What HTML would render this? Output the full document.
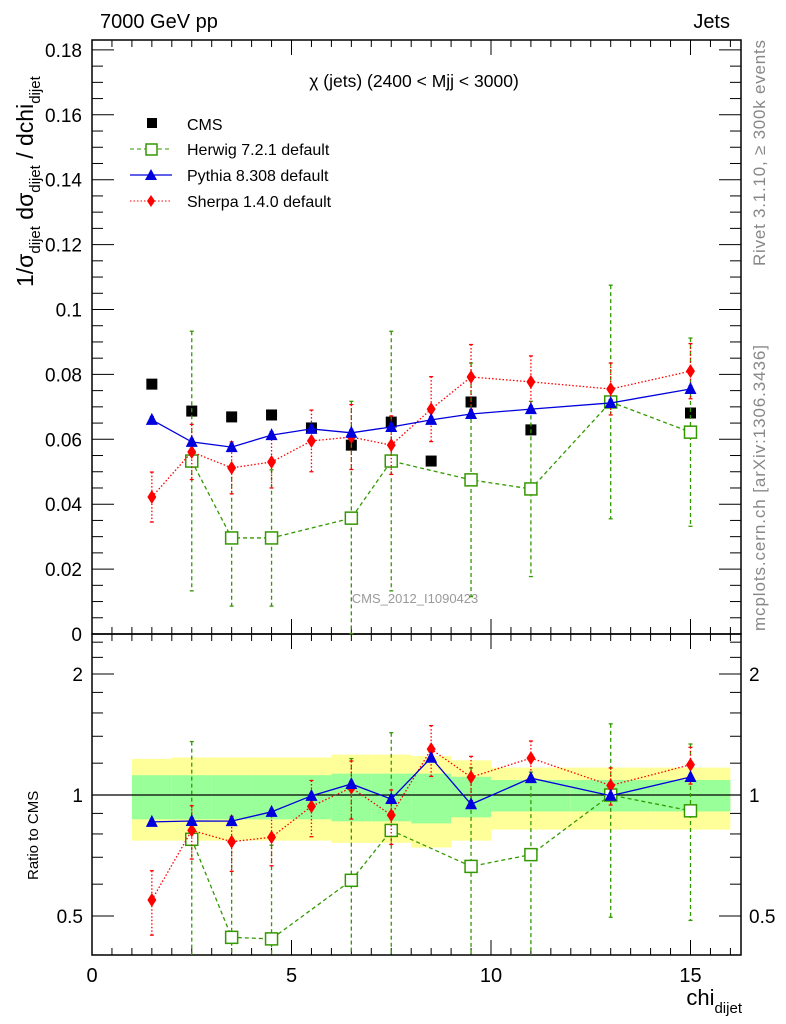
<!DOCTYPE html>
<html><head><meta charset="utf-8">
<style>
body{margin:0;background:#fff;}
svg{display:block;font-family:"Liberation Sans",sans-serif;}
</style></head>
<body>
<svg id="c" width="786" height="1024" viewBox="0 0 786 1024" xmlns="http://www.w3.org/2000/svg">
<text x="100" y="28" font-size="20">7000 GeV pp</text>
<text x="730" y="28" font-size="20" text-anchor="end">Jets</text>
<text x="414" y="87" font-size="17.5" text-anchor="middle">χ (jets) (2400 &lt; Mjj &lt; 3000)</text>
<text x="415" y="603" font-size="13" fill="#999" text-anchor="middle">CMS_2012_I1090423</text>
<text transform="translate(765,266) rotate(-90)" textLength="226" font-size="17" fill="#888">Rivet 3.1.10, ≥ 300k events</text>
<text transform="translate(765,631) rotate(-90)" textLength="286" font-size="17" fill="#888">mcplots.cern.ch [arXiv:1306.3436]</text>
<text transform="translate(33,287) rotate(-90)" font-size="23">1/σ<tspan font-size="15" dy="7">dijet</tspan><tspan dy="-7"> dσ</tspan><tspan font-size="15" dy="7">dijet</tspan><tspan dy="-7"> / dchi</tspan><tspan font-size="15" dy="7">dijet</tspan></text>
<text transform="translate(38,880) rotate(-90)" font-size="15">Ratio to CMS</text>
<text x="742" y="1005" font-size="22" text-anchor="end">chi<tspan font-size="15" dy="8">dijet</tspan></text>
<g id="legend">
<rect x="147" y="118" width="10" height="10" fill="#000"/>
<text x="187" y="130" font-size="16">CMS</text>
<line x1="130" y1="149" x2="172" y2="149" stroke="#339900" stroke-dasharray="4,3"/>
<rect x="146" y="144" width="11" height="11" fill="#fff" stroke="#339900" stroke-width="1.5"/>
<text x="187" y="155" font-size="16">Herwig 7.2.1 default</text>
<line x1="130" y1="175" x2="172" y2="175" stroke="#0000dd" stroke-width="1.3"/>
<polygon points="151,169 157,180 145,180" fill="#0000dd"/>
<text x="187" y="181" font-size="16">Pythia 8.308 default</text>
<line x1="130" y1="201" x2="172" y2="201" stroke="#ff0000" stroke-dasharray="1.5,2"/>
<polygon points="151,195 155,201 151,207 147,201" fill="#ff0000"/>
<text x="187" y="207" font-size="16">Sherpa 1.4.0 default</text>
</g>
</svg>
<script>
const xs = [1.5,2.5,3.5,4.5,5.5,6.5,7.5,8.5,9.5,11,13,15];
const cms = [0.0770,0.0687,0.0669,0.0675,0.0635,0.0582,0.0653,0.0533,0.0715,0.0629,0.0715,0.0681];
const herwigX = [2.5,3.5,4.5,6.5,7.5,9.5,11,13,15];
const herwig = [0.0533,0.0296,0.0296,0.0357,0.0533,0.0475,0.0447,0.0715,0.0622];
const herwigErr = [0.040,0.021,0.021,0.036,0.040,0.036,0.027,0.036,0.029];
const pythia = [0.0660,0.0592,0.0576,0.0613,0.0632,0.0620,0.0638,0.0660,0.0678,0.0693,0.0712,0.0755];
const pythiaErr = [0.001,0.001,0.001,0.001,0.001,0.001,0.001,0.001,0.001,0.001,0.001,0.001];
const sherpa = [0.0422,0.0561,0.0512,0.0530,0.0595,0.0607,0.0582,0.0693,0.0792,0.0777,0.0755,0.0810];
const sherpaErr = [0.0077,0.0085,0.008,0.008,0.0095,0.010,0.009,0.010,0.010,0.008,0.008,0.0085];
const binEdges = [1,2,3,4,5,6,7,8,9,10,12,14,16];
const bandOuterHi = [1.23,1.24,1.24,1.24,1.24,1.26,1.26,1.25,1.22,1.17,1.17,1.17];
const bandOuterLo = [0.77,0.77,0.77,0.77,0.77,0.76,0.76,0.74,0.77,0.82,0.82,0.82];
const bandInnerHi = [1.12,1.12,1.12,1.12,1.12,1.13,1.13,1.13,1.11,1.09,1.09,1.09];
const bandInnerLo = [0.87,0.87,0.87,0.87,0.87,0.86,0.86,0.85,0.88,0.91,0.91,0.91];
const yTicks = [0,0.02,0.04,0.06,0.08,0.1,0.12,0.14,0.16,0.18];
const yTickLabels = ["0","0.02","0.04","0.06","0.08","0.1","0.12","0.14","0.16","0.18"];
const xTicks = [0,5,10,15];
const rTicks = [0.5,1,2];
const rTickLabels = ["0.5","1","2"];

const NS="http://www.w3.org/2000/svg";
const svg=document.getElementById('c');
const L=92,R=741,T1=40,B1=634,T2=634,B2=955;
const X=v=>L+(v)*39.9;
const Y=v=>B1-v*3245;
const RY=r=>795-121*Math.log2(r);
function mk(tag,attrs,parent){const e=document.createElementNS(NS,tag);for(const k in attrs)e.setAttribute(k,attrs[k]);(parent||svg).appendChild(e);return e;}

const bands=mk('g',{});


for(let i=0;i<bandOuterHi.length;i++){
  const a=X(binEdges[i]),b=X(binEdges[i+1]);
  const y1=mk('rect',{x:a,y:RY(bandOuterHi[i]),width:b-a,height:RY(bandOuterLo[i])-RY(bandOuterHi[i]),fill:'#ffff99'},bands);
  
  
  const g1=mk('rect',{x:a,y:RY(bandInnerHi[i]),width:b-a,height:RY(bandInnerLo[i])-RY(bandInnerHi[i]),fill:'#99ff99'},bands);
  
  
}
const one=mk('line',{x1:L,x2:R,y1:RY(1),y2:RY(1),stroke:'#000','stroke-width':1.2});



function frame(t,b,name){
  const f=mk('rect',{x:L,y:t,width:R-L,height:b-t,fill:'none',stroke:'#000','stroke-width':1.5});
  
  
}
frame(T1,B1,'main-plot-frame');
frame(T2,B2,'ratio-plot-frame');

const axes=mk('g',{stroke:'#000','stroke-width':1});


for(let v=0;v<=16.25;v+=0.5){
  const maj=xTicks.includes(v);const len=maj?15:7;
  for(const [t,b] of [[T1,B1],[T2,B2]]){
    mk('line',{x1:X(v),x2:X(v),y1:b,y2:b-len},axes);
    mk('line',{x1:X(v),x2:X(v),y1:t,y2:t+len},axes);
  }
}
xTicks.forEach(v=>{const t=mk('text',{x:X(v),y:982,'font-size':20,'text-anchor':'middle'});t.textContent=v;

});
for(let v=0;v<=0.1826;v+=0.005){
  const maj=Math.abs(v/0.02-Math.round(v/0.02))<1e-6;const len=maj?22:11;
  mk('line',{x1:L,x2:L+len,y1:Y(v),y2:Y(v)},axes);
  mk('line',{x1:R,x2:R-len,y1:Y(v),y2:Y(v)},axes);
}
yTicks.forEach((v,i)=>{const t=mk('text',{x:82,y:Y(v)+7,'font-size':19,'text-anchor':'end'});t.textContent=yTickLabels[i];

});
const rminor=[0.4,0.6,0.7,0.8,0.9,1.2,1.4,1.6,1.8,2.2,2.4];
rminor.forEach(r=>{mk('line',{x1:L,x2:L+11,y1:RY(r),y2:RY(r)},axes);mk('line',{x1:R,x2:R-11,y1:RY(r),y2:RY(r)},axes);});
rTicks.forEach((r,i)=>{
  mk('line',{x1:L,x2:L+22,y1:RY(r),y2:RY(r)},axes);mk('line',{x1:R,x2:R-22,y1:RY(r),y2:RY(r)},axes);
  const t=mk('text',{x:83,y:RY(r)+7,'font-size':19,'text-anchor':'end'});t.textContent=rTickLabels[i];
  
  
  const t2=mk('text',{x:749,y:RY(r)+7,'font-size':19});t2.textContent=rTickLabels[i];
  
  
});

function clipY(y,t,b){return Math.max(t,Math.min(b,y));}
function marker(kind,x,y,color,g){
  let e;
  if(kind==='sq') e=mk('rect',{x:x-6,y:y-6,width:12,height:12,fill:'#fff',stroke:color,'stroke-width':1.5},g);
  else if(kind==='tri') e=mk('polygon',{points:`${x},${y-7} ${x+6},${y+5} ${x-6},${y+5}`,fill:color},g);
  else if(kind==='dia') e=mk('polygon',{points:`${x},${y-7} ${x+4.5},${y} ${x},${y+7} ${x-4.5},${y}`,fill:color},g);
  else e=mk('rect',{x:x-5.5,y:y-5.5,width:11,height:11,fill:color},g);
  
  
}
function series(name,xv,vals,errs,color,dash,kind,ratio){
  const g=mk('g',{});
  
  
  const t=ratio?T2:T1,b=ratio?B2:B1;
  const yf=ratio?(v,i)=>RY(Math.max(v/cms[xs.indexOf(xv[i])],0.3)):(v)=>Y(v);
  if(errs) vals.forEach((v,i)=>{
    const y1=clipY(yf(v+errs[i],i),t,b),y2=clipY(yf(Math.max(v-errs[i],0.0001),i),t,b);
    mk('line',{x1:X(xv[i]),x2:X(xv[i]),y1:y1,y2:y2,stroke:color,'stroke-width':1.3,'stroke-dasharray':dash||'none'},g);
    [y1,y2].forEach(yy=>{if(yy>t&&yy<b)mk('line',{x1:X(xv[i])-2,x2:X(xv[i])+2,y1:yy,y2:yy,stroke:color,'stroke-width':1.3},g);});
  });
  if(kind!=='cms'){
    const pts=vals.map((v,i)=>X(xv[i])+','+yf(v,i)).join(' ');
    mk('polyline',{points:pts,fill:'none',stroke:color,'stroke-width':1.3,'stroke-dasharray':dash||'none'},g);
  }
  vals.forEach((v,i)=>marker(kind,X(xv[i]),yf(v,i),color,g));
}
series('cms-data',xs,cms,null,'#000',null,'cms',false);
series('herwig-series',herwigX,herwig,herwigErr,'#339900','4,3','sq',false);
series('sherpa-series',xs,sherpa,sherpaErr,'#ff0000','1.5,2','dia',false);
series('pythia-series',xs,pythia,pythiaErr,'#0000dd',null,'tri',false);
series('herwig-ratio',herwigX,herwig,herwigErr,'#339900','4,3','sq',true);
series('sherpa-ratio',xs,sherpa,sherpaErr,'#ff0000','1.5,2','dia',true);
series('pythia-ratio',xs,pythia,pythiaErr,'#0000dd',null,'tri',true);
</script>
</body></html>
